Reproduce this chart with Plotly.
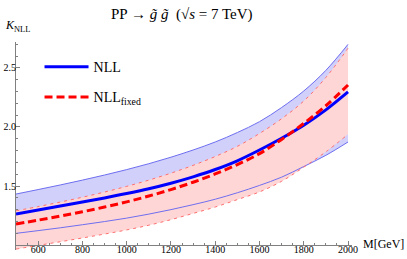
import plotly.graph_objects as go

# Data
mass = [500, 600, 700, 800, 900, 1000, 1100, 1200, 1300, 1400,
        1500, 1600, 1700, 1800, 1900, 2000]
nll = [1.263, 1.296, 1.330, 1.364, 1.399, 1.436, 1.477, 1.524, 1.578, 1.640,
       1.714, 1.805, 1.905, 2.015, 2.145, 2.297]
nll_up = [1.432, 1.470, 1.509, 1.550, 1.593, 1.639, 1.689, 1.744, 1.805, 1.873,
          1.953, 2.045, 2.165, 2.305, 2.480, 2.700]
nll_lo = [1.099, 1.122, 1.146, 1.172, 1.199, 1.228, 1.262, 1.300, 1.342, 1.388,
          1.443, 1.505, 1.575, 1.665, 1.760, 1.873]
fix = [1.178, 1.211, 1.245, 1.282, 1.322, 1.366, 1.415, 1.470, 1.532, 1.602,
       1.682, 1.774, 1.895, 2.030, 2.180, 2.356]
fix_up = [1.290, 1.326, 1.364, 1.405, 1.449, 1.497, 1.550, 1.609, 1.675, 1.750,
          1.836, 1.945, 2.070, 2.220, 2.420, 2.667]
fix_lo = [0.966, 0.997, 1.028, 1.060, 1.093, 1.128, 1.168, 1.215, 1.268, 1.322,
          1.385, 1.450, 1.540, 1.660, 1.790, 1.938]

x_ticks = [600, 800, 1000, 1200, 1400, 1600, 1800, 2000]
y_ticks = [1.5, 2.0, 2.5]

BLUE_FILL = "rgb(208,208,250)"
RED_FILL = "rgb(255,214,214)"
BLUE_EDGE = "rgb(110,110,240)"
RED_EDGE = "rgb(255,110,110)"
SERIF = "Liberation Serif"

fig = go.Figure()

def band(lo, up, color):
    fig.add_trace(go.Scatter(x=mass, y=lo, mode="lines", line=dict(width=0, shape="spline"),
                             showlegend=False, hoverinfo="skip"))
    fig.add_trace(go.Scatter(x=mass, y=up, mode="lines", line=dict(width=0, shape="spline"),
                             fill="tonexty", fillcolor=color, showlegend=False, hoverinfo="skip"))

band(nll_lo, nll_up, BLUE_FILL)
band(fix_lo, fix_up, RED_FILL)

for arr in (nll_lo, nll_up):
    fig.add_trace(go.Scatter(x=mass, y=arr, mode="lines",
                             line=dict(color=BLUE_EDGE, width=1, shape="spline"), showlegend=False))
for arr in (fix_lo, fix_up):
    fig.add_trace(go.Scatter(x=mass, y=arr, mode="lines",
                             line=dict(color=RED_EDGE, width=1, shape="spline", dash="3px,4px"),
                             showlegend=False))

fig.add_trace(go.Scatter(x=mass, y=nll, mode="lines", name="NLL", legendgroup="a",
                         line=dict(color="rgb(0,0,255)", width=3, shape="spline")))
fig.add_trace(go.Scatter(x=mass, y=fix, mode="lines", name="NLL<sub>fixed</sub>", legendgroup="b",
                         line=dict(color="rgb(255,0,0)", width=3, shape="spline", dash="8px,4px")))

y0, y1 = 0.958, 2.72
fig.update_layout(
    width=407, height=259,
    margin=dict(l=16, r=55, t=42, b=9),
    plot_bgcolor="white", paper_bgcolor="white",
    font=dict(family=SERIF, size=10, color="black"),
    showlegend=True,
    hovermode=False,
    legend=dict(x=0.07, y=0.956, xanchor="left", yanchor="top", bgcolor="rgba(0,0,0,0)",
                font=dict(family=SERIF, size=14), tracegroupgap=9, itemwidth=44),
    xaxis=dict(range=[500, 2018], tickvals=x_ticks, ticks="inside", ticklen=4, tickcolor="gray",
               showgrid=False, zeroline=False, showline=True, linecolor="gray", linewidth=1,
               anchor="free", position=(1.0 - y0) / (y1 - y0), automargin=False,
               ticklabelstandoff=-5,
               minor=dict(dtick=50, tick0=500, ticks="inside", ticklen=2, tickcolor="gray"),
               tickfont=dict(family=SERIF, size=10)),
    yaxis=dict(range=[y0, y1], tickvals=y_ticks, ticks="inside", ticklen=4, tickcolor="gray",
               tickformat=".1f", automargin=False, ticklabelstandoff=-3,
               showgrid=False, zeroline=False, showline=True, linecolor="gray", linewidth=1,
               minor=dict(dtick=0.1, tick0=1.0, ticks="inside", ticklen=2, tickcolor="gray"),
               tickfont=dict(family=SERIF, size=10)),
    annotations=[
        dict(text="PP → <i>g̃ g̃</i>  (√<i>s</i> = 7 TeV)", xref="paper", yref="paper",
             x=(182 - 16) / 336, y=1 + (42 - 14) / 208, xanchor="center", yanchor="middle",
             showarrow=False, font=dict(family=SERIF, size=15)),
        dict(text="<i>K</i><sub>NLL</sub>", xref="paper", yref="paper",
             x=-13 / 336, y=1 + (42 - 26) / 208, xanchor="left", yanchor="middle",
             showarrow=False, font=dict(family=SERIF, size=12)),
        dict(text="M[GeV]", xref="paper", yref="paper",
             x=(361 - 16) / 336, y=(250 - 244) / 208, xanchor="left", yanchor="middle",
             showarrow=False, font=dict(family=SERIF, size=12)),
    ],
)

fig.write_html("out.html", config={"displayModeBar": False, "staticPlot": True},
               post_script="document.body.style.margin='0px';")
